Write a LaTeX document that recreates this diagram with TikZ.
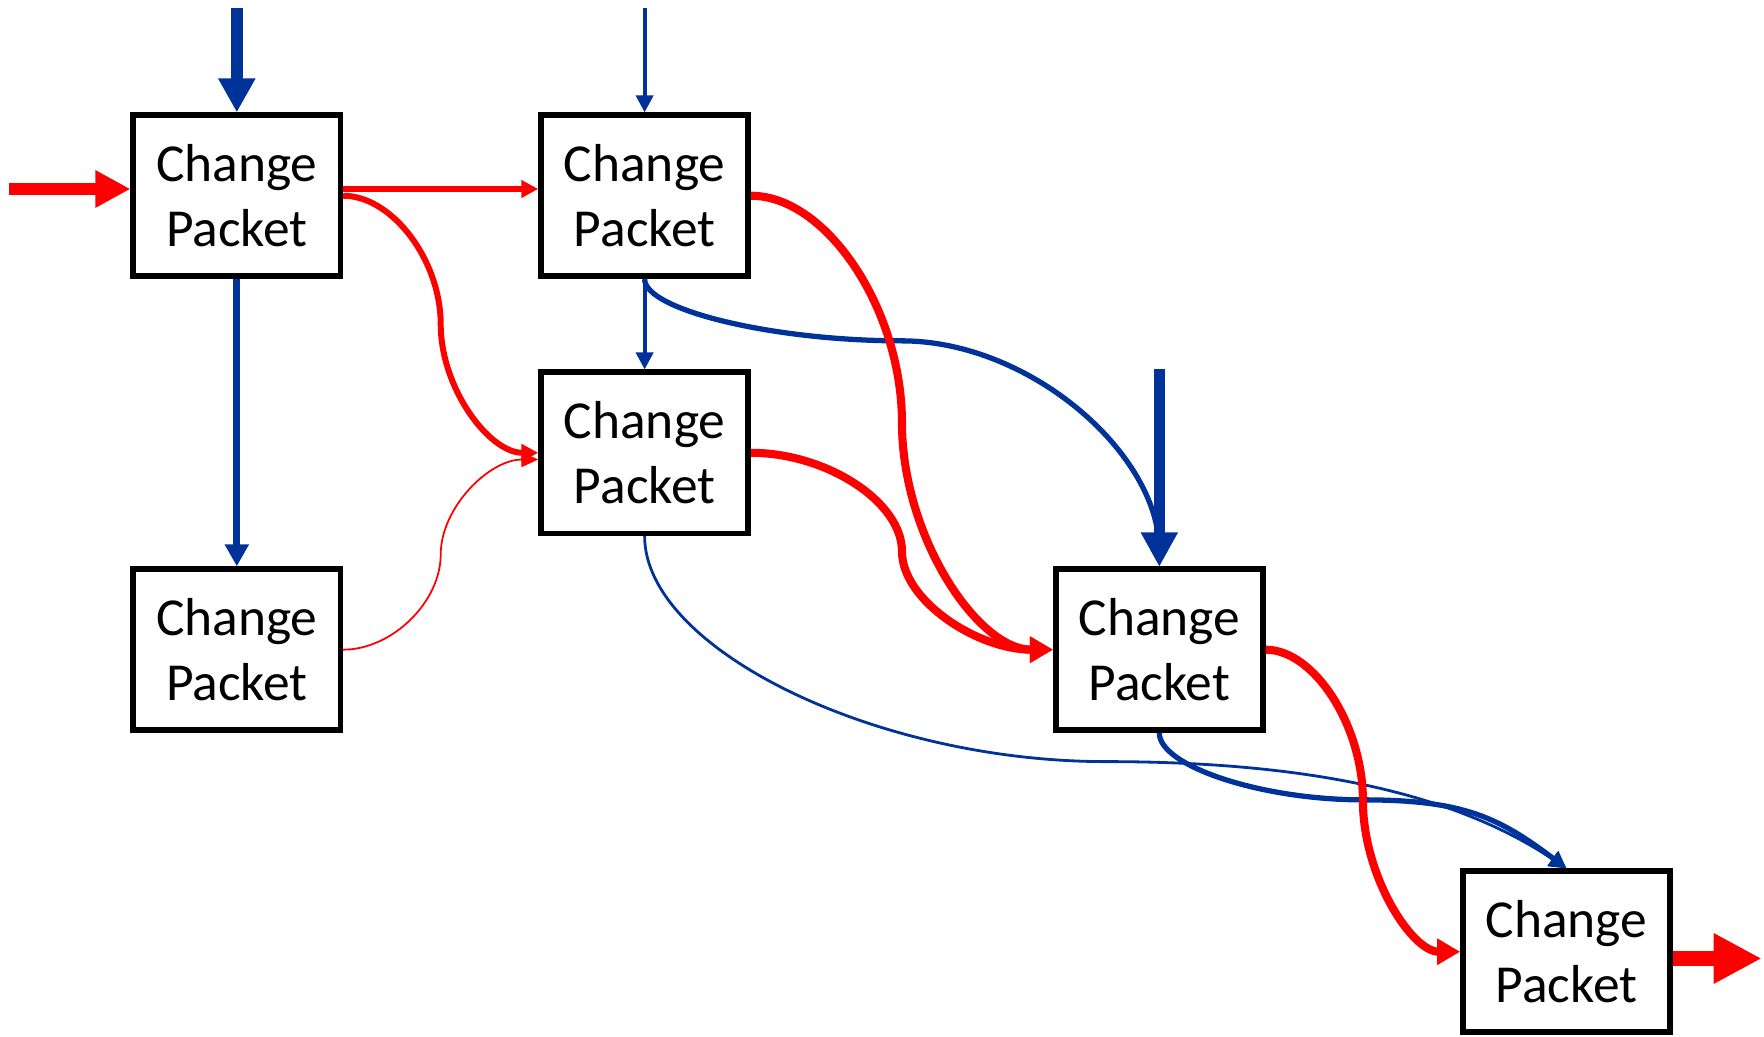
\documentclass[tikz,border=0pt]{standalone}
\usepackage{fontspec}
\setmainfont{Carlito}
\usetikzlibrary{arrows.meta,calc}
\definecolor{flowblue}{RGB}{0,51,153}
\definecolor{flowred}{RGB}{255,0,0}

\begin{document}
\begin{tikzpicture}[x=0.01125cm,y=0.01125cm,
    packet/.style={draw,line width=1.6pt,fill=white,minimum width=2.07cm,minimum height=1.61cm,
        inner sep=0pt,align=center,font=\fontsize{15.2}{18.5}\selectfont},
    feedblue/.style={flowblue,line width=3.3pt,-{Triangle[length=3.4mm,width=3.5mm]}},
    midblue/.style={flowblue,line width=2pt,-{Triangle[length=2.2mm,width=2.3mm]}},
    thinblue/.style={flowblue,line width=1.1pt,-{Triangle[length=1.7mm,width=1.7mm]}},
    curveblue/.style={flowblue,line width=1.5pt,-{Triangle[length=1.7mm,width=1.7mm]}},
    hairblue/.style={flowblue,line width=0.8pt,-{Triangle[length=1.7mm,width=1.7mm]}},
    feedred/.style={flowred,line width=3.3pt,-{Triangle[length=3.5mm,width=3.5mm]}},
    outred/.style={flowred,line width=4.3pt,-{Triangle[length=4.8mm,width=4.7mm]}},
    linkred/.style={flowred,line width=1.7pt,-{Triangle[length=1.7mm,width=1.7mm]}},
    thickred/.style={flowred,line width=2.3pt,-{Triangle[length=2.3mm,width=2.5mm]}},
    hairred/.style={flowred,line width=0.5pt,-{Triangle[length=1.7mm,width=1.5mm]}}]
    \useasboundingbox (0,0) rectangle (1568,-921);

    % Packets
    \node[packet] (A) at (210.5,-174) {Change\\Packet};
    \node[packet] (B) at (573,-174) {Change\\Packet};
    \node[packet] (C) at (573,-402.5) {Change\\Packet};
    \node[packet] (D) at (210.5,-577.5) {Change\\Packet};
    \node[packet] (E) at (1030.5,-577.5) {Change\\Packet};
    \node[packet] (F) at (1392.5,-846) {Change\\Packet};

    % Loose ends and bends
    \coordinate (inA) at (210.5,-7);
    \coordinate (inB) at (573,-7);
    \coordinate (inE) at (1030.5,-328);
    \coordinate (inRed) at (8,-168);
    \coordinate (outRed) at (1566,-852);
    \coordinate (bmid) at (801.5,-303);
    \coordinate (cmid) at (983,-677);
    \coordinate (emid) at (1211.5,-711);
    \coordinate (cin) at ($(C.west)+(0,-6)$);

    % Blue flow
    \draw[feedblue] (inA) -- (A.north);
    \draw[thinblue] (inB) -- (B.north);
    \draw[midblue] (A.south) -- (D.north);
    \draw[thinblue] (B.south) -- (C.north);
    \draw[curveblue] (B.south) .. controls +(0,-27.5) and +(-114,0) .. (bmid)
        .. controls +(114,0) and +(0,100) .. (E.north);
    \draw[hairblue] (C.south) .. controls +(0,-100) and +(-205,0) .. (cmid)
        .. controls +(200,0) and +(-90,60) .. (F.north);
    \draw[curveblue] (E.south) .. controls +(0,-29.5) and +(-90,0) .. (emid)
        .. controls +(90,0) and +(-60,45) .. (F.north);
    \draw[feedblue] (inE) -- (E.north);

    % Red flow
    \draw[feedred] (inRed) -- ($(A.west)+(0,6)$);
    \draw[linkred] ($(A.east)+(0,6)$) -- ($(B.west)+(0,6)$);
    \draw[linkred] (A.east) .. controls +(43.5,0) and +(0,57) .. ($(A.east)!0.5!(C.west)$)
        .. controls +(0,-57) and +(-43.5,0) .. (C.west);
    \draw[hairred] (D.east) .. controls +(43.5,0) and +(0,-42) .. ($(D.east)!0.5!(cin)$)
        .. controls +(0,42) and +(-43.5,0) .. (cin);
    \draw[thickred] (B.east) .. controls +(67,0) and +(0,101) .. ($(B.east)!0.5!(E.west)$)
        .. controls +(0,-101) and +(-67,0) .. (E.west);
    \draw[thickred] (C.east) .. controls +(67,0) and +(0,44) .. ($(C.east)!0.5!(E.west)$)
        .. controls +(0,-44) and +(-67,0) .. (E.west);
    \draw[thickred] (E.east) .. controls +(43,0) and +(0,67) .. ($(E.east)!0.5!(F.west)$)
        .. controls +(0,-67) and +(-43,0) .. (F.west);
    \draw[outred] ($(F.east)+(0,-6)$) -- (outRed);
\end{tikzpicture}
\end{document}
